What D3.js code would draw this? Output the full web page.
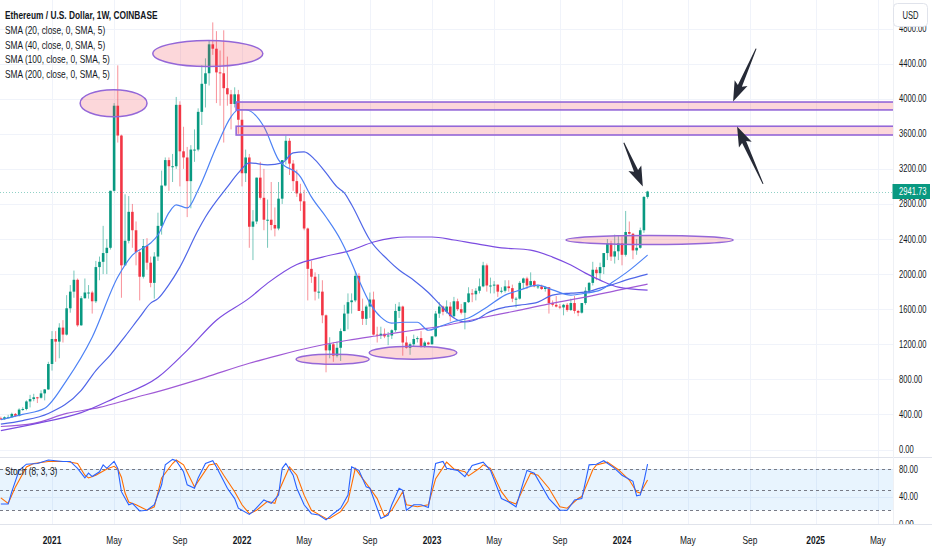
<!DOCTYPE html>
<html>
<head>
<meta charset="utf-8">
<script src="https://cdn.jsdelivr.net/npm/d3@7"></script>
<style>
  body { margin: 0; background: #fff; }
  svg { display: block; font-family: "Liberation Sans", Arial, sans-serif; }
</style>
</head>
<body>
<svg id="chart" width="932" height="550"></svg>
<script>
// weekly bars, first bar = week of 2020-09-28
const FIRST_WEEK = Date.UTC(2020, 8, 28);

const opens = [355, 346, 368, 368, 406, 383, 455, 462, 548, 575, 595, 590, 640, 685, 975, 1260, 1230, 1390, 1310, 1610,
  1800, 1935, 1416, 1725, 1790, 1790, 1690, 2080, 2140, 2240, 2300, 2950, 3920, 3580, 2100, 2380, 2710, 2500, 2250, 1970,
  2320, 2130, 1900, 2200, 2550, 3010, 3300, 3230, 3230, 3930, 3400, 3330, 3060, 3420, 3420, 3850, 4170, 4290, 4620, 4570,
  4300, 4290, 4120, 4050, 3940, 4050, 3760, 3150, 3330, 2540, 2600, 3100, 2870, 2620, 2620, 2560, 2520, 2860, 3300, 3520,
  3260, 3060, 2920, 2830, 2520, 2060, 1970, 1800, 1800, 1530, 1130, 1200, 1070, 1160, 1350, 1550, 1680, 1700, 1980, 1580,
  1490, 1630, 1710, 1310, 1300, 1320, 1290, 1300, 1360, 1580, 1630, 1220, 1160, 1200, 1260, 1270, 1170, 1220, 1200, 1290,
  1550, 1630, 1570, 1630, 1520, 1690, 1600, 1560, 1680, 1780, 1770, 1810, 1860, 2100, 1870, 1870, 1880, 1800, 1810, 1860,
  1840, 1720, 1720, 1900, 1950, 1870, 1920, 1860, 1860, 1830, 1850, 1670, 1650, 1630, 1620, 1650, 1590, 1670, 1580, 1560,
  1670, 1810, 1900, 2050, 2010, 2080, 2240, 2350, 2200, 2260, 2350, 2220, 2480, 2460, 2270, 2300, 2500, 2880];
const highs = [375, 378, 395, 420, 416, 470, 482, 560, 623, 635, 600, 675, 690, 1000, 1350, 1350, 1440, 1475, 1760, 1875,
  2040, 1950, 1750, 1950, 1875, 1810, 2150, 2200, 2550, 2400, 2950, 3950, 4380, 3590, 2910, 2890, 2800, 2600, 2280, 2400,
  2410, 2200, 2250, 2700, 3180, 3330, 3330, 3370, 4020, 3970, 3680, 3450, 3470, 3650, 3890, 4380, 4460, 4670, 4870, 4770,
  4550, 4780, 4480, 4100, 4130, 4100, 3880, 3420, 3370, 2730, 3100, 3280, 3200, 2850, 3050, 2760, 3050, 3300, 3580, 3550,
  3300, 3190, 3030, 2960, 2530, 2150, 2020, 2000, 1930, 1540, 1280, 1220, 1230, 1380, 1650, 1780, 1780, 2030, 2010, 1720,
  1650, 1790, 1800, 1400, 1400, 1380, 1340, 1370, 1660, 1680, 1640, 1290, 1220, 1310, 1290, 1350, 1240, 1230, 1290, 1580,
  1680, 1640, 1700, 1680, 1740, 1720, 1660, 1580, 1850, 1830, 1840, 1950, 2140, 2120, 1960, 1920, 1880, 1850, 1930, 1930,
  1880, 1740, 1920, 1960, 1970, 2020, 1930, 1880, 1880, 1860, 1850, 1700, 1750, 1660, 1660, 1670, 1720, 1750, 1590, 1670,
  1850, 1910, 2140, 2080, 2130, 2230, 2400, 2380, 2450, 2440, 2430, 2720, 2600, 2470, 2400, 2530, 2890, 2950];
const lows = [336, 339, 363, 365, 370, 376, 440, 447, 480, 550, 530, 580, 560, 680, 900, 1000, 1040, 1220, 1300, 1560,
  1730, 1400, 1410, 1720, 1720, 1550, 1670, 1930, 2000, 2000, 2280, 2940, 3500, 1730, 2100, 2350, 2300, 2100, 1700, 1950,
  2050, 1850, 1720, 2150, 2450, 3000, 2950, 3050, 3200, 3000, 3200, 2650, 2750, 3280, 3400, 3700, 3900, 4150, 4500, 3950,
  3920, 3500, 3920, 3650, 3900, 3600, 3000, 3050, 2300, 2160, 2570, 2850, 2500, 2300, 2500, 2430, 2500, 2800, 3250, 3130,
  2950, 2880, 2720, 2500, 1700, 1900, 1700, 1720, 1440, 880, 1040, 1000, 1050, 1010, 1350, 1370, 1550, 1680, 1580, 1420,
  1420, 1500, 1300, 1220, 1260, 1270, 1190, 1260, 1340, 1500, 1070, 1150, 1080, 1170, 1220, 1160, 1160, 1190, 1195, 1280,
  1500, 1530, 1550, 1460, 1500, 1580, 1540, 1370, 1670, 1680, 1700, 1780, 1850, 1800, 1780, 1780, 1740, 1780, 1790, 1800,
  1680, 1620, 1710, 1830, 1830, 1860, 1850, 1830, 1820, 1800, 1550, 1630, 1620, 1600, 1530, 1570, 1580, 1550, 1520, 1550,
  1650, 1780, 1870, 1930, 1930, 2000, 2160, 2150, 2120, 2160, 2100, 2200, 2450, 2170, 2220, 2290, 2470, 2860];
const closes = [346, 368, 368, 406, 383, 455, 462, 548, 575, 595, 590, 640, 685, 975, 1260, 1230, 1390, 1310, 1610, 1800,
  1935, 1416, 1725, 1790, 1790, 1690, 2080, 2140, 2240, 2300, 2950, 3920, 3580, 2100, 2380, 2710, 2500, 2250, 1970, 2320,
  2130, 1900, 2200, 2550, 3010, 3300, 3230, 3230, 3930, 3400, 3330, 3060, 3420, 3420, 3850, 4170, 4290, 4620, 4570, 4300,
  4290, 4120, 4050, 3940, 4050, 3760, 3150, 3330, 2540, 2600, 3100, 2870, 2620, 2620, 2560, 2520, 2860, 3300, 3520, 3260,
  3060, 2920, 2830, 2520, 2060, 1970, 1800, 1800, 1530, 1130, 1200, 1070, 1160, 1350, 1550, 1680, 1700, 1980, 1580, 1490,
  1630, 1710, 1310, 1300, 1320, 1290, 1300, 1360, 1580, 1630, 1220, 1160, 1200, 1260, 1270, 1170, 1220, 1200, 1290, 1550,
  1630, 1570, 1630, 1520, 1690, 1600, 1560, 1680, 1780, 1770, 1810, 1860, 2100, 1870, 1870, 1880, 1800, 1810, 1860, 1840,
  1720, 1720, 1900, 1950, 1870, 1920, 1860, 1860, 1830, 1850, 1670, 1650, 1630, 1620, 1650, 1590, 1670, 1580, 1560, 1670,
  1810, 1900, 2050, 2010, 2080, 2240, 2350, 2200, 2260, 2350, 2220, 2480, 2460, 2270, 2300, 2500, 2880, 2941.73];

// moving averages: [week, value]
const sma20 = [[0, 340], [6, 400], [12, 470], [18, 789], [25, 1280], [32, 1966], [36, 2217], [41, 2354], [43, 2446],
  [46, 2700], [48, 2790], [51, 2754], [54, 2960], [59, 3451], [63, 3794], [65, 3874], [67, 3874], [72, 3680], [76, 3303],
  [82, 3109], [85, 2880], [89, 2651], [93, 2389], [96, 2126], [98, 1931], [101, 1669], [104, 1509], [107, 1440], [110, 1451],
  [114, 1451], [117, 1360], [120, 1400], [124, 1460], [128, 1500], [133, 1623], [138, 1760], [142, 1817], [147, 1874],
  [151, 1820], [156, 1760], [160, 1783], [164, 1817], [167, 1897], [171, 2011], [177, 2217]];
const sma40 = [[0, 290], [6, 330], [13, 411], [22, 674], [26, 900], [30, 1080], [34, 1290], [38, 1509], [41, 1669],
  [43, 1720], [46, 1880], [49, 2080], [54, 2503], [56, 2651], [62, 2994], [65, 3154], [68, 3269], [73, 3246], [77, 3269],
  [80, 3383], [83, 3394], [86, 3303], [89, 3154], [92, 2994], [94, 2926], [96, 2790], [101, 2389], [106, 2160], [109, 2046],
  [113, 1931], [117, 1790], [120, 1660], [124, 1500], [127, 1455], [131, 1500], [133, 1554], [138, 1623], [142, 1646],
  [147, 1680], [151, 1760], [156, 1783], [160, 1794], [164, 1840], [167, 1874], [171, 1931], [177, 2000]];
const sma100 = [[0, 215], [9, 290], [22, 420], [31, 583], [43, 823], [51, 1131], [59, 1474], [68, 1726], [73, 1897],
  [81, 2110], [88, 2194], [96, 2274], [102, 2366], [107, 2411], [111, 2423], [118, 2423], [124, 2389], [129, 2354],
  [137, 2300], [145, 2274], [151, 2194], [156, 2103], [160, 2011], [164, 1931], [169, 1851], [177, 1817]];
const sma200 = [[0, 262], [9, 297], [18, 411], [27, 480], [36, 583], [47, 709], [56, 823], [68, 983], [76, 1074],
  [85, 1166], [95, 1246], [104, 1303], [113, 1360], [122, 1417], [131, 1497], [142, 1589], [151, 1669], [160, 1737],
  [169, 1817], [177, 1886]];

// Stoch (8, 3, 3): [week, value]
const stochK = [[0, 29], [2, 29], [3, 47], [5, 78], [7, 87], [10, 88], [13, 93], [17, 91], [19, 91], [21, 81], [23, 67],
  [24, 74], [25, 69], [27, 76], [28, 86], [29, 81], [31, 91], [32, 81], [33, 47], [35, 28], [36, 30], [38, 19], [40, 20],
  [42, 28], [44, 57], [45, 86], [47, 94], [48, 92], [50, 76], [51, 57], [53, 52], [54, 67], [56, 88], [58, 92], [59, 83],
  [62, 52], [64, 37], [65, 23], [68, 14], [69, 18], [72, 35], [74, 30], [76, 42], [77, 81], [78, 88], [80, 71], [81, 52],
  [83, 28], [85, 15], [87, 13], [89, 6], [91, 15], [93, 23], [95, 42], [96, 83], [98, 78], [100, 54], [101, 52], [104, 8],
  [106, 13], [107, 28], [109, 52], [110, 49], [111, 20], [113, 28], [115, 28], [117, 24], [119, 88], [121, 91], [122, 81],
  [125, 78], [127, 69], [129, 85], [132, 90], [134, 78], [137, 37], [139, 32], [141, 25], [143, 61], [144, 78], [146, 74],
  [150, 37], [153, 20], [155, 20], [157, 35], [159, 37], [161, 86], [163, 87], [165, 92], [168, 81], [170, 71], [173, 62],
  [174, 41], [175, 42], [176, 62], [177, 87]];
const stochD = [[0, 38], [2, 30], [4, 54], [7, 83], [9, 88], [13, 91], [18, 91], [21, 88], [23, 71], [24, 67], [26, 71],
  [29, 80], [31, 84], [32, 80], [33, 68], [34, 45], [35, 32], [37, 28], [40, 20], [42, 25], [44, 67], [47, 88], [48, 93],
  [50, 86], [53, 54], [54, 62], [57, 86], [59, 88], [61, 71], [64, 47], [66, 28], [68, 15], [70, 20], [73, 33], [75, 30],
  [76, 47], [79, 83], [81, 71], [83, 42], [85, 20], [87, 14], [89, 8], [90, 8], [93, 18], [95, 33], [97, 81], [99, 66],
  [101, 52], [103, 37], [105, 11], [107, 20], [110, 47], [111, 28], [114, 25], [117, 28], [119, 66], [122, 90], [124, 80],
  [127, 76], [128, 70], [131, 81], [132, 86], [134, 81], [137, 47], [139, 33], [141, 29], [143, 52], [145, 74], [147, 71],
  [150, 52], [153, 25], [155, 23], [158, 37], [159, 40], [162, 79], [163, 86], [166, 90], [169, 79], [172, 64], [174, 47],
  [175, 45], [177, 64]];

const priceTicks = [0, 400, 800, 1200, 1600, 2000, 2400, 2800, 3200, 3600, 4000, 4400, 4800];
const stochTicks = [0, 40, 80];
const stochLevels = [20, 50, 80];
const timeTicks = ['2021-01-04', '2021-05-03', '2021-09-06', '2022-01-03', '2022-05-02', '2022-09-05', '2023-01-02',
  '2023-05-01', '2023-09-04', '2024-01-01', '2024-05-06', '2024-09-02', '2025-01-06', '2025-05-05'];
const timeLabels = ['2021', 'May', 'Sep', '2022', 'May', 'Sep', '2023', 'May', 'Sep', '2024', 'May', 'Sep', '2025', 'May'];
const lastPrice = 2941.73;

const legendLines = ['Ethereum / U.S. Dollar, 1W, COINBASE', 'SMA (20, close, 0, SMA, 5)', 'SMA (40, close, 0, SMA, 5)',
  'SMA (100, close, 0, SMA, 5)', 'SMA (200, close, 0, SMA, 5)'];

// drawings: week ranges and price ranges
const ellipses = [
  { from: 21.7, to: 40, top: 4103, bottom: 3794 },
  { from: 41.6, to: 71.7, top: 4663, bottom: 4366 },
  { from: 80.8, to: 100.8, top: 1086, bottom: 971 },
  { from: 100.8, to: 124.8, top: 1177, bottom: 1029 },
  { from: 154.7, to: 200.4, top: 2440, bottom: 2337 }
];
const zones = [
  { from: 64.4, to: 260, top: 3962, bottom: 3872 },
  { from: 64.4, to: 260, top: 3686, bottom: 3586 }
];
const arrows = [
  { from: [206.7, 4571], to: [200.4, 3969] },
  { from: [208.6, 3029], to: [201.5, 3683] },
  { from: [170.5, 3497], to: [175.7, 2998] }
];

const W = 932, H = 550;
const PLOT_R = 893, MAIN_B = 457, STOCH_T = 458, STOCH_B = 524;
const SQ = 0.76;
const UP = '#089981', DOWN = '#f23645';

const WEEK = 7 * 24 * 3600 * 1000;
const weekTime = i => new Date(FIRST_WEEK + i * WEEK);
const parseDay = d3.utcParse('%Y-%m-%d');

const x = d3.scaleUtc()
  .domain([parseDay('2021-01-04'), parseDay('2024-01-01')])
  .range([52, 622]);
const y = d3.scaleLinear().domain([0, 4000]).range([449.5, 98.7]);
const ys = d3.scaleLinear().domain([0, 100]).range([STOCH_B, STOCH_B - 68.75]);
const xi = i => x(weekTime(i));

const svg = d3.select('#chart');
svg.append('rect').attr('width', W).attr('height', H).attr('fill', '#fff');

const defs = svg.append('defs');
defs.append('clipPath').attr('id', 'clipMain')
  .append('rect').attr('x', 0).attr('y', 0).attr('width', PLOT_R).attr('height', MAIN_B);
defs.append('clipPath').attr('id', 'clipStoch')
  .append('rect').attr('x', 0).attr('y', STOCH_T).attr('width', PLOT_R).attr('height', STOCH_B - STOCH_T);

// grid
const grid = svg.append('g').attr('stroke', '#f0f3fa').attr('stroke-width', 1);
grid.selectAll('.vgrid')
  .data(timeTicks)
  .enter()
  .append('line')
  .attr('x1', d => Math.round(x(parseDay(d))) + 0.5)
  .attr('x2', d => Math.round(x(parseDay(d))) + 0.5)
  .attr('y1', 0)
  .attr('y2', STOCH_B);
grid.selectAll('.hgrid')
  .data(priceTicks)
  .enter()
  .append('line')
  .attr('x1', 0)
  .attr('x2', PLOT_R)
  .attr('y1', d => Math.round(y(d)) + 0.5)
  .attr('y2', d => Math.round(y(d)) + 0.5);
grid.selectAll('.sgrid')
  .data(stochTicks)
  .enter()
  .append('line')
  .attr('x1', 0)
  .attr('x2', PLOT_R)
  .attr('y1', d => Math.round(ys(d)) + 0.5)
  .attr('y2', d => Math.round(ys(d)) + 0.5);

// main pane
const main = svg.append('g').attr('clip-path', 'url(#clipMain)');

const bars = closes.map((c, i) => ({ i, o: opens[i], h: highs[i], l: lows[i], c }));

main.selectAll('.wick')
  .data(bars)
  .enter()
  .append('line')
  .attr('class', 'wick')
  .attr('x1', d => xi(d.i))
  .attr('x2', d => xi(d.i))
  .attr('y1', d => y(d.h))
  .attr('y2', d => y(d.l))
  .attr('stroke', d => d.c >= d.o ? UP : DOWN)
  .attr('stroke-opacity', 0.55)
  .attr('stroke-width', 1);

main.selectAll('.body')
  .data(bars)
  .enter()
  .append('rect')
  .attr('class', 'body')
  .attr('x', d => xi(d.i) - 1.3)
  .attr('width', 2.6)
  .attr('y', d => y(Math.max(d.o, d.c)))
  .attr('height', d => Math.max(1, Math.abs(y(d.o) - y(d.c))))
  .attr('fill', d => d.c >= d.o ? UP : DOWN);

const maLine = d3.line()
  .x(d => xi(d[0]))
  .y(d => y(d[1]))
  .curve(d3.curveMonotoneX);

const maSeries = [
  { data: sma200, color: '#a05ad6' },
  { data: sma100, color: '#7c4ce0' },
  { data: sma40, color: '#4f66e8' },
  { data: sma20, color: '#4d82f5' }
];
main.selectAll('.ma')
  .data(maSeries)
  .enter()
  .append('path')
  .attr('class', 'ma')
  .attr('d', d => maLine(d.data))
  .attr('fill', 'none')
  .attr('stroke', d => d.color)
  .attr('stroke-width', 1.2);

// last price line
main.append('line')
  .attr('x1', 0)
  .attr('x2', PLOT_R)
  .attr('y1', Math.round(y(lastPrice)) + 0.5)
  .attr('y2', Math.round(y(lastPrice)) + 0.5)
  .attr('stroke', UP)
  .attr('stroke-opacity', 0.45)
  .attr('stroke-dasharray', '1,2');

// drawings
main.selectAll('.zone')
  .data(zones)
  .enter()
  .append('rect')
  .attr('class', 'zone')
  .attr('x', d => xi(d.from))
  .attr('width', d => xi(d.to) - xi(d.from))
  .attr('y', d => y(d.top))
  .attr('height', d => y(d.bottom) - y(d.top))
  .attr('fill', 'rgba(242,54,69,0.2)')
  .attr('stroke', '#9467d8')
  .attr('stroke-width', 1.6);

main.selectAll('.ell')
  .data(ellipses)
  .enter()
  .append('ellipse')
  .attr('class', 'ell')
  .attr('cx', d => (xi(d.from) + xi(d.to)) / 2)
  .attr('cy', d => (y(d.top) + y(d.bottom)) / 2)
  .attr('rx', d => (xi(d.to) - xi(d.from)) / 2)
  .attr('ry', d => (y(d.bottom) - y(d.top)) / 2)
  .attr('fill', 'rgba(242,54,69,0.2)')
  .attr('stroke', '#9467d8')
  .attr('stroke-width', 1.5);

function arrowPath(x1, y1, x2, y2) {
  const dx = x2 - x1, dy = y2 - y1, len = Math.hypot(dx, dy);
  const ux = dx / len, uy = dy / len, nx = -uy, ny = ux;
  const head = 17, hw = 7, sw = 2.2;
  const pt = (a, b) => [x1 + ux * a + nx * b, y1 + uy * a + ny * b];
  const pts = [pt(0, 0.5), pt(len - head, sw), pt(len - head - 3, hw), pt(len, 0),
    pt(len - head - 3, -hw), pt(len - head, -sw), pt(0, -0.5)];
  return 'M' + pts.map(p => p.join(',')).join('L') + 'Z';
}

main.selectAll('.arrow')
  .data(arrows)
  .enter()
  .append('path')
  .attr('class', 'arrow')
  .attr('d', d => arrowPath(xi(d.from[0]), y(d.from[1]), xi(d.to[0]), y(d.to[1])))
  .attr('fill', '#262a36');

// stoch pane
const stoch = svg.append('g').attr('clip-path', 'url(#clipStoch)');
stoch.append('rect')
  .attr('x', 0)
  .attr('width', PLOT_R)
  .attr('y', ys(80))
  .attr('height', ys(20) - ys(80))
  .attr('fill', 'rgba(33,150,243,0.1)');
stoch.selectAll('.level')
  .data(stochLevels)
  .enter()
  .append('line')
  .attr('x1', 0)
  .attr('x2', PLOT_R)
  .attr('y1', d => Math.round(ys(d)) + 0.5)
  .attr('y2', d => Math.round(ys(d)) + 0.5)
  .attr('stroke', '#787b86')
  .attr('stroke-dasharray', '3,3');

const stLine = d3.line()
  .x(d => xi(d[0]))
  .y(d => ys(d[1]));
stoch.append('path')
  .attr('d', stLine(stochD))
  .attr('fill', 'none')
  .attr('stroke', '#ff6d00')
  .attr('stroke-width', 1.1);
stoch.append('path')
  .attr('d', stLine(stochK))
  .attr('fill', 'none')
  .attr('stroke', '#2962ff')
  .attr('stroke-width', 1.1);

// separators
svg.append('line').attr('x1', 0).attr('x2', W).attr('y1', MAIN_B + 0.5).attr('y2', MAIN_B + 0.5).attr('stroke', '#e0e3eb');
svg.append('line').attr('x1', 0).attr('x2', W).attr('y1', STOCH_B + 0.5).attr('y2', STOCH_B + 0.5).attr('stroke', '#e0e3eb');
svg.append('line').attr('x1', PLOT_R + 0.5).attr('x2', PLOT_R + 0.5).attr('y1', 0).attr('y2', STOCH_B).attr('stroke', '#eef0f4');

// text helper: the screenshot text is narrow, squeeze it horizontally
function putText(g, tx, ty, str, size, weight, anchor) {
  return g.append('text')
    .attr('transform', `translate(${tx},${ty}) scale(${SQ},1)`)
    .attr('font-size', size)
    .attr('font-weight', weight || 400)
    .attr('text-anchor', anchor || 'start')
    .attr('fill', '#131722')
    .text(str);
}

// price axis
const axisG = svg.append('g');
priceTicks.forEach(p => putText(axisG, 899, y(p) + 3.5, d3.format('.2f')(p), 10));
const stAxis = svg.append('g').attr('clip-path', 'url(#clipStochAxis)');
defs.append('clipPath').attr('id', 'clipStochAxis')
  .append('rect').attr('x', PLOT_R).attr('y', STOCH_T).attr('width', W - PLOT_R).attr('height', STOCH_B - STOCH_T);
stochTicks.forEach(v => putText(stAxis, 899, ys(v) + 3.5, d3.format('.2f')(v), 10));

// last price badge
svg.append('rect')
  .attr('x', PLOT_R - 0.5)
  .attr('y', y(lastPrice) - 7.5)
  .attr('width', W - PLOT_R - 1.5)
  .attr('height', 15)
  .attr('fill', UP);
putText(svg, 899, y(lastPrice) + 3.5, d3.format('.2f')(lastPrice), 10).attr('fill', '#fff');

// USD button
svg.append('rect')
  .attr('x', 893.5)
  .attr('y', 3.5)
  .attr('width', 34)
  .attr('height', 23)
  .attr('rx', 4)
  .attr('fill', '#fff')
  .attr('stroke', '#e0e3eb');
putText(svg, 910.5, 18.5, 'USD', 10, 400, 'middle');

// time axis
const timeG = svg.append('g');
timeTicks.forEach((d, k) => {
  const isYear = /^\d{4}$/.test(timeLabels[k]);
  putText(timeG, x(parseDay(d)), 544, timeLabels[k], 11, isYear ? 700 : 400, 'middle');
});

// legends
const legendG = svg.append('g');
legendLines.forEach((s, k) => putText(legendG, 5, 19 + k * 14.8, s, 11, k === 0 ? 700 : 400));
putText(svg, 5, 475, 'Stoch (8, 3, 3)', 11);
</script>
</body>
</html>
